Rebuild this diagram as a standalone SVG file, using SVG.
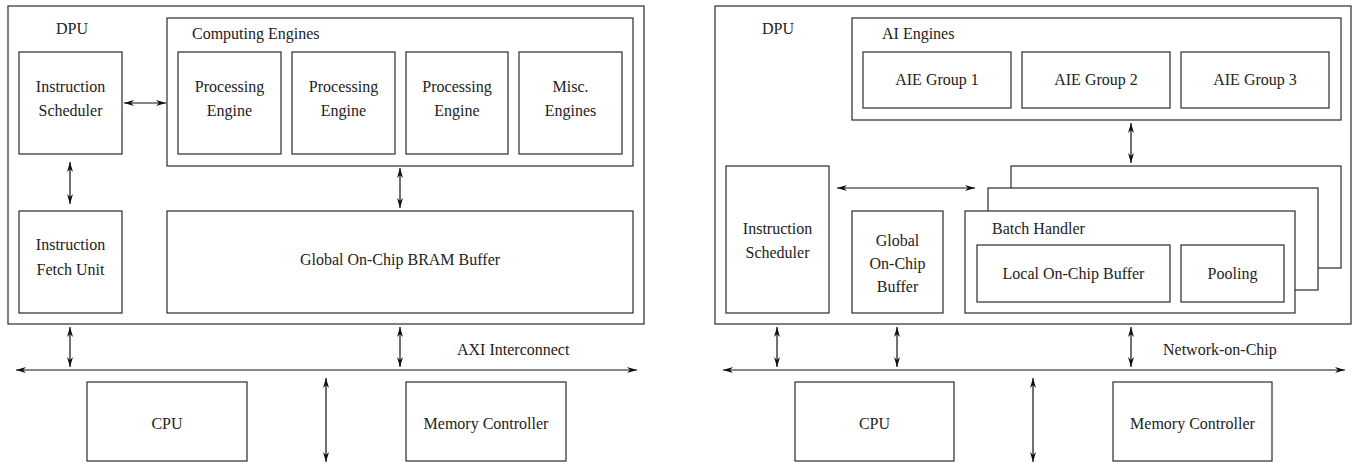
<svg xmlns="http://www.w3.org/2000/svg" width="1353" height="463" viewBox="0 0 1353 463">
<style>
.box{fill:none;stroke:#2a2a2a;stroke-width:1.2}
.wbox{fill:#fff;stroke:#2a2a2a;stroke-width:1.2}
.conn{fill:none;stroke:#111;stroke-width:1.2;marker-end:url(#ah);marker-start:url(#ah)}
text{font-family:"Liberation Serif","DejaVu Serif",serif;font-size:16px;fill:#222}
.c{text-anchor:middle}
</style>
<defs>
<marker id="ah" viewBox="0 0 10 6" refX="10" refY="3" markerWidth="10" markerHeight="6" markerUnits="userSpaceOnUse" orient="auto-start-reverse">
<path d="M0,0 L10,3 L0,6 L3,3 z" fill="#111"/>
</marker>
</defs>

<!-- LEFT PANEL -->
<g id="dpu-left"><rect class="box" x="8" y="6" width="636" height="318"/><text class="c" x="72" y="34">DPU</text></g>
<g id="computing-engines"><rect class="box" x="167" y="18" width="466" height="148"/><text x="192" y="39">Computing Engines</text></g>
<g id="instr-sched-left"><rect class="box" x="19" y="52" width="103" height="102"/><text class="c" x="70.5" y="92">Instruction</text><text class="c" x="70.5" y="116">Scheduler</text></g>
<g id="pe1"><rect class="box" x="178" y="52" width="103" height="102"/><text class="c" x="229.5" y="92">Processing</text><text class="c" x="229.5" y="116">Engine</text></g>
<g id="pe2"><rect class="box" x="292" y="52" width="103" height="102"/><text class="c" x="343.5" y="92">Processing</text><text class="c" x="343.5" y="116">Engine</text></g>
<g id="pe3"><rect class="box" x="406" y="52" width="102" height="102"/><text class="c" x="457" y="92">Processing</text><text class="c" x="457" y="116">Engine</text></g>
<g id="misc"><rect class="box" x="519" y="52" width="103" height="102"/><text class="c" x="570.5" y="92">Misc.</text><text class="c" x="570.5" y="116">Engines</text></g>
<g id="ifu"><rect class="box" x="19" y="211" width="103" height="102"/><text class="c" x="70.5" y="250">Instruction</text><text class="c" x="70.5" y="275">Fetch Unit</text></g>
<g id="bram"><rect class="box" x="167" y="211" width="466" height="102"/><text class="c" x="400" y="265">Global On-Chip BRAM Buffer</text></g>
<g id="axi-label"><text x="457" y="355">AXI Interconnect</text></g>
<g id="cpu-left"><rect class="box" x="87" y="382" width="160" height="79"/><text class="c" x="167" y="429">CPU</text></g>
<g id="mc-left"><rect class="box" x="406" y="382" width="160" height="79"/><text class="c" x="486" y="429">Memory Controller</text></g>

<!-- RIGHT PANEL -->
<g id="dpu-right"><rect class="box" x="715" y="6" width="636" height="318"/><text class="c" x="778" y="34">DPU</text></g>
<g id="ai-engines"><rect class="box" x="852" y="18" width="489" height="102"/><text x="882" y="39">AI Engines</text></g>
<g id="aie1"><rect class="box" x="863" y="52" width="148" height="56"/><text class="c" x="937" y="85">AIE Group 1</text></g>
<g id="aie2"><rect class="box" x="1022" y="52" width="148" height="56"/><text class="c" x="1096" y="85">AIE Group 2</text></g>
<g id="aie3"><rect class="box" x="1181" y="52" width="148" height="56"/><text class="c" x="1255" y="85">AIE Group 3</text></g>
<g id="batch-stack-back"><rect class="wbox" x="1011" y="166" width="330" height="102"/></g>
<g id="batch-stack-mid"><rect class="wbox" x="988" y="188" width="330" height="102"/></g>
<g id="batch-handler"><rect class="wbox" x="965" y="211" width="330" height="102"/><text x="992" y="234">Batch Handler</text></g>
<g id="local-buffer"><rect class="box" x="977" y="245" width="193" height="57"/><text class="c" x="1073.5" y="279">Local On-Chip Buffer</text></g>
<g id="pooling"><rect class="box" x="1181" y="245" width="103" height="57"/><text class="c" x="1232.5" y="279">Pooling</text></g>
<g id="instr-sched-right"><rect class="box" x="726" y="166" width="103" height="147"/><text class="c" x="777.5" y="234">Instruction</text><text class="c" x="777.5" y="258">Scheduler</text></g>
<g id="global-buffer"><rect class="box" x="852" y="211" width="91" height="102"/><text class="c" x="897.5" y="246">Global</text><text class="c" x="897.5" y="269">On-Chip</text><text class="c" x="897.5" y="292">Buffer</text></g>
<g id="noc-label"><text x="1163" y="355">Network-on-Chip</text></g>
<g id="cpu-right"><rect class="box" x="795" y="382" width="159" height="79"/><text class="c" x="874.5" y="429">CPU</text></g>
<g id="mc-right"><rect class="box" x="1113" y="382" width="159" height="79"/><text class="c" x="1192.5" y="429">Memory Controller</text></g>

<g id="connectors">
<line class="conn" x1="124" y1="103" x2="166" y2="103"/>
<line class="conn" x1="70" y1="162" x2="70" y2="204"/>
<line class="conn" x1="400" y1="168" x2="400" y2="208"/>
<line class="conn" x1="70" y1="327" x2="70" y2="367"/>
<line class="conn" x1="400" y1="327" x2="400" y2="367"/>
<line class="conn" x1="16" y1="370" x2="637" y2="370"/>
<line class="conn" x1="326" y1="378" x2="326" y2="462"/>

<line class="conn" x1="1131" y1="123" x2="1131" y2="163"/>
<line class="conn" x1="837" y1="188" x2="975" y2="188"/>
<line class="conn" x1="777" y1="327" x2="777" y2="367"/>
<line class="conn" x1="897" y1="327" x2="897" y2="367"/>
<line class="conn" x1="1131" y1="327" x2="1131" y2="367"/>
<line class="conn" x1="723" y1="370" x2="1345" y2="370"/>
<line class="conn" x1="1033" y1="378" x2="1033" y2="462"/>
</g>
</svg>
